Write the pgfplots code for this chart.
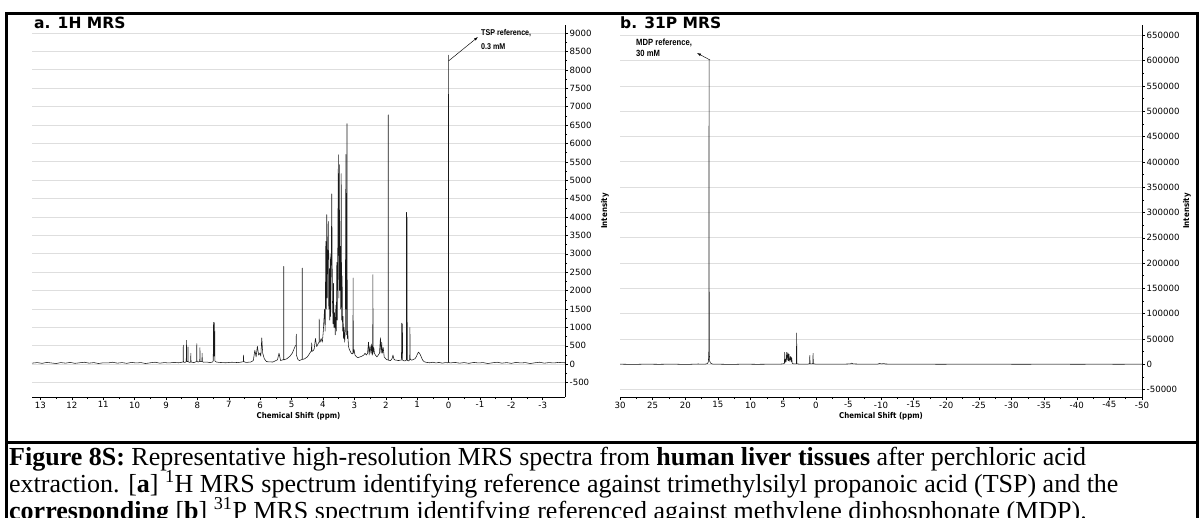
\documentclass[border=0pt]{standalone}
\usepackage{pgfplots}
\pgfplotsset{compat=1.18}
\usepackage{fontspec}
\setmainfont{Liberation Serif}
\newfontfamily\tickfont{DejaVu Sans}
\newfontfamily\lblfont{DejaVu Sans}[FakeStretch=0.88]
\newfontfamily\annfont{Liberation Sans}[FakeStretch=0.85]
\usetikzlibrary{arrows.meta}
\definecolor{gridgray}{RGB}{222,222,222}
\definecolor{spec}{RGB}{25,25,25}

\pgfplotsset{
 mrs/.style={
  scale only axis, x dir=reverse,
  axis x line*=bottom, axis y line*=right,
  axis line style={black, line width=0.6pt},
  tick align=outside,
  major tick length=3pt, minor tick length=2pt,
  tick style={black, line width=0.5pt},
  minor x tick num=1, minor y tick num=1,
  ymajorgrids, major grid style={gridgray, line width=0.9pt},
  scaled y ticks=false, scaled x ticks=false,
  /pgf/number format/fixed, /pgf/number format/1000 sep={},
  /pgf/number format/assume math mode=true,
  tick label style={font=\tickfont\fontsize{8.6}{9}\selectfont},
  xticklabel style={inner sep=1.5pt},
  yticklabel style={inner sep=1.5pt},
 },
 spectrum/.style={color=spec, line width=0.55pt, line join=round, mark=none},
}

\begin{document}
\begin{tikzpicture}
\useasboundingbox (0pt,0pt) rectangle (1201pt,-518pt);
\fill[white] (0pt,0pt) rectangle (1201pt,-518pt);

% ---------- panel a: 1H MRS ----------
\begin{axis}[mrs, at={(32pt,-397pt)}, anchor=south west,
  width=533pt, height=372pt,
  xmin=-3.71, xmax=13.27, ymin=-890, ymax=9220,
  xtick={-3,-2,...,13}, ytick={-500,0,...,9000}]
\addplot[spectrum] coordinates {
(13.27,30)(13.1,45)(12.95,25)(12.8,50)(12.65,35)(12.5,20)(12.35,45)(12.2,30)(12.05,50)(11.9,25)
(11.75,40)(11.6,55)(11.45,30)(11.3,45)(11.15,20)(11.0,40)(10.85,35)(10.7,55)(10.55,30)(10.4,45)
(10.25,25)(10.1,50)(9.95,35)(9.8,45)(9.65,20)(9.5,40)(9.35,55)(9.2,30)(9.05,45)(8.9,35)(8.75,50)
(8.6,40)(8.5,55)
(8.456,60)(8.45,520)(8.444,60)
(8.40,50)(8.356,70)(8.35,650)(8.344,80)(8.32,70)(8.306,80)(8.30,470)(8.294,70)
(8.25,50)(8.216,60)(8.21,300)(8.204,60)
(8.12,45)(8.06,60)(8.026,80)(8.02,560)(8.014,80)(7.98,60)
(7.926,80)(7.92,450)(7.914,80)(7.88,70)(7.856,80)(7.85,300)(7.844,70)(7.8,55)
(7.7,60)(7.6,45)(7.52,60)(7.496,90)(7.49,1140)(7.47,220)(7.45,1130)(7.444,90)(7.40,60)
(7.3,50)(7.1,40)(6.9,55)(6.7,45)(6.6,60)(6.536,70)(6.53,250)(6.524,70)(6.45,50)(6.3,60)(6.22,100)
(6.17,380)(6.13,200)(6.09,490)(6.05,250)(6.01,300)(5.98,220)(5.95,715)(5.92,300)(5.87,150)(5.8,70)
(5.6,60)(5.45,120)(5.40,300)(5.35,100)(5.28,120)(5.256,130)(5.25,2660)(5.244,120)(5.15,150)
(5.05,220)(4.98,300)(4.92,420)(4.88,500)(4.855,520)(4.85,820)(4.845,250)(4.80,130)(4.75,100)
(4.70,120)(4.666,130)(4.66,2615)(4.654,130)(4.58,150)(4.5,200)(4.45,260)(4.40,330)(4.37,360)
(4.36,580)(4.35,350)(4.30,380)(4.28,420)(4.24,700)(4.2,480)(4.16,550)(4.126,600)(4.12,1230)
(4.114,600)(4.09,600)(4.06,700)(4.02,600)(3.99,900)(3.97,1200)
(3.95,1500)(3.93,900)(3.91,3340)(3.895,1500)(3.88,4065)(3.865,1800)(3.85,3000)(3.83,3880)
(3.815,1500)(3.80,2600)(3.785,1200)(3.77,3000)(3.755,1300)(3.74,2400)(3.72,4630)(3.70,1800)
(3.68,1100)(3.665,2200)(3.65,1000)(3.63,1400)(3.61,800)(3.59,1600)(3.575,900)(3.56,2770)
(3.545,1200)(3.53,3000)(3.51,5695)(3.495,1800)(3.48,5425)(3.465,2000)(3.45,3200)(3.435,1500)
(3.42,5180)(3.405,1200)(3.39,2400)(3.375,900)(3.36,1300)(3.345,700)(3.33,1000)(3.31,600)
(3.29,900)(3.27,5700)(3.262,1500)(3.255,4640)(3.245,800)(3.235,6540)(3.225,700)(3.21,900)
(3.19,500)(3.16,400)(3.13,350)(3.10,300)(3.07,280)(3.046,300)(3.04,2345)(3.034,300)(3.01,400)
(2.98,250)(2.93,200)(2.88,180)(2.82,200)(2.76,220)(2.70,250)(2.66,300)(2.62,250)(2.58,300)
(2.55,600)(2.53,250)(2.50,500)(2.47,300)(2.45,550)(2.43,250)(2.416,300)(2.41,2435)(2.404,300)
(2.38,450)(2.36,300)(2.33,250)(2.28,200)(2.24,250)(2.20,300)(2.17,720)(2.15,300)(2.13,600)
(2.11,300)(2.08,450)(2.05,200)(2.0,150)(1.96,120)(1.926,120)(1.92,6780)(1.914,110)(1.85,100)
(1.80,150)(1.77,250)(1.74,140)(1.70,110)(1.65,110)(1.60,100)(1.55,110)(1.50,110)(1.49,1120)
(1.48,300)(1.47,1090)(1.46,110)(1.40,90)(1.36,100)(1.345,120)(1.34,4130)(1.33,400)(1.32,4000)
(1.315,110)(1.27,90)(1.236,120)(1.23,1000)(1.224,150)(1.18,110)(1.12,130)(1.07,150)(1.03,200)
(0.99,280)(0.96,330)(0.93,300)(0.90,260)(0.87,200)(0.83,120)(0.78,70)(0.7,50)(0.6,40)(0.5,55)
(0.4,35)(0.3,50)(0.2,30)(0.1,45)(0.03,40)(0.005,50)(0,8400)(-0.005,50)(-0.05,35)(-0.2,50)
(-0.35,30)(-0.5,45)(-0.65,25)(-0.8,50)(-0.95,35)(-1.1,45)(-1.25,20)(-1.4,40)(-1.55,55)(-1.7,30)
(-1.85,45)(-2.0,25)(-2.15,50)(-2.3,35)(-2.45,45)(-2.6,20)(-2.75,40)(-2.9,55)(-3.05,30)(-3.2,45)
(-3.35,35)(-3.5,50)(-3.71,40)
};
\end{axis}

% ---------- panel b: 31P MRS ----------
\begin{axis}[mrs, at={(620pt,-397pt)}, anchor=south west,
  width=522pt, height=372pt,
  xmin=-50, xmax=30, ymin=-64600, ymax=670500,
  xtick={-50,-45,...,30}, ytick={-50000,0,...,650000}]
\addplot[spectrum] coordinates {
(30,300)(28,-200)(26,400)(24,0)(22,500)(20,-300)(18,600)(17,200)(16.6,1500)(16.45,5000)
(16.38,30000)(16.35,601000)(16.32,25000)(16.25,6000)(16.1,2000)(15.8,500)(15,300)(13,-200)
(11,400)(9,0)(7,300)(5.5,400)(5.0,800)(4.8,2000)(4.76,23700)(4.72,3000)(4.62,10000)(4.55,5000)
(4.45,23700)(4.38,8000)(4.26,22400)(4.18,7000)(4.10,19800)(4.0,6000)(3.84,15800)(3.76,5000)
(3.69,13200)(3.6,2000)(3.4,800)(3.1,700)(2.97,1000)(2.93,61900)(2.89,1000)(2.6,500)(2.0,400)
(1.2,500)(0.95,1200)(0.91,17800)(0.87,1000)(0.7,800)(0.45,1200)(0.41,21700)(0.37,1000)(0.0,400)
(-2,200)(-4,300)(-5.3,800)(-5.5,2200)(-5.7,800)(-7,300)(-9.5,500)(-9.8,1600)(-10.1,800)
(-10.4,1500)(-10.7,600)(-13,200)(-16,400)(-19,100)(-22,300)(-25,200)(-28,300)(-31,100)
(-34,200)(-37,300)(-40,100)(-43,250)(-46,150)(-50,200)
};
\end{axis}

% axis titles
\node[rotate=90, font=\lblfont\bfseries\fontsize{8}{9}\selectfont] at (605pt,-211pt) {Intensity};
\node[rotate=90, font=\lblfont\bfseries\fontsize{8}{9}\selectfont] at (1187pt,-211pt) {Intensity};
\node[font=\lblfont\bfseries\fontsize{8}{9}\selectfont] at (298.5pt,-416pt) {Chemical Shift (ppm)};
\node[font=\lblfont\bfseries\fontsize{8}{9}\selectfont] at (881pt,-416pt) {Chemical Shift (ppm)};

% panel titles
\node[anchor=base west, inner sep=0pt, font=\tickfont\bfseries\fontsize{15.5}{18}\selectfont] at (34pt,-29pt) {a. 1H MRS};
\node[anchor=base west, inner sep=0pt, font=\tickfont\bfseries\fontsize{15.5}{18}\selectfont] at (620pt,-29pt) {b. 31P MRS};

% annotations
\draw[black, line width=0.45pt, -{Latex[length=4pt,width=2.6pt]}] (448.5pt,-61pt) -- (478pt,-37pt);
\node[anchor=west, inner sep=0pt, align=left, font=\annfont\bfseries\fontsize{8.4}{14}\selectfont] at (481pt,-40pt) {TSP reference,\\0.3 mM};
\draw[black, line width=0.45pt, -{Latex[length=4pt,width=2.6pt]}] (710pt,-60pt) -- (697pt,-53pt);
\node[anchor=west, inner sep=0pt, align=left, font=\annfont\bfseries\fontsize{9}{11.5}\selectfont] at (636pt,-48pt) {MDP reference,\\30 mM};

% frame
\draw[black, line width=3pt] (6.5pt,-530pt) -- (6.5pt,-13.5pt) -- (1197.5pt,-13.5pt) -- (1197.5pt,-530pt);
\draw[black, line width=3pt] (6.5pt,-442pt) -- (1197.5pt,-442pt);

% caption
\node[anchor=base west, inner sep=0pt, font=\fontsize{26}{27}\selectfont] at (9pt,-465pt)
 {\textbf{Figure 8S:} Representative high-resolution MRS spectra from \textbf{human liver tissues} after perchloric acid};
\node[anchor=base west, inner sep=0pt, font=\fontsize{26}{27}\selectfont] at (9pt,-492pt)
 {extraction. [\textbf{a}] \textsuperscript{1}H MRS spectrum identifying reference against trimethylsilyl propanoic acid (TSP) and the};
\node[anchor=base west, inner sep=0pt, font=\fontsize{26}{27}\selectfont] at (9pt,-519pt)
 {\textbf{corresponding} [\textbf{b}] \textsuperscript{31}P MRS spectrum identifying referenced against methylene diphosphonate (MDP).};
\end{tikzpicture}
\end{document}
